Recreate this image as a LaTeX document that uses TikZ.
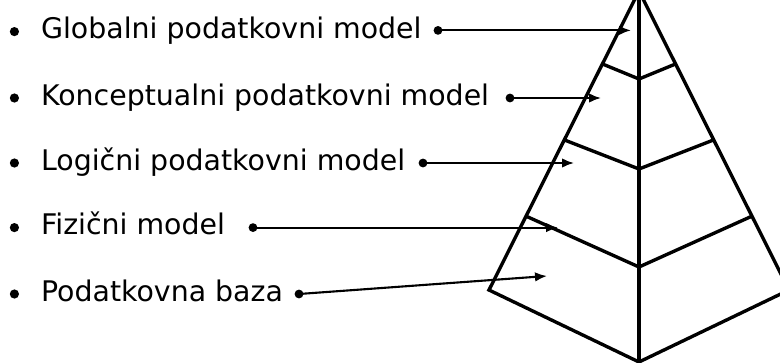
\documentclass[tikz,border=0pt]{standalone}
\usepackage{fontspec}
\setmainfont{DejaVu Sans}
\usepackage{tikz}
\usetikzlibrary{arrows.meta, calc}

\tikzset{
  level/.style={font=\fontsize{20.2}{24}\selectfont, inner sep=0pt, text height=15.35pt, text depth=4.85pt, anchor=west},
  bullet/.style={circle, fill, inner sep=0pt, minimum size=0.23cm},
  pin/.style={circle, fill, inner sep=0pt, minimum size=0.22cm},
  pointer/.style={line width=1.5pt, -{Latex[length=0.3cm,width=0.24cm]}},
  pyr/.style={line width=2.4pt, line join=miter}
}

\begin{document}
\begin{tikzpicture}
\useasboundingbox (0,0) rectangle (19.5,9.05);

% Pyramid outline
\coordinate (apex) at (15.975,9.275);
\coordinate (left) at (12.225,1.8);
\coordinate (right) at (19.725,1.8);
\coordinate (bottom) at (15.975,0);
\draw[pyr] (apex) -- (left) -- (bottom) -- (right) -- cycle;
\draw[pyr] (apex) -- (bottom);

% Layer boundaries
\draw[pyr] ($(apex)!0.244!(left)$) -- (15.975,7.075) -- ($(apex)!0.244!(right)$);
\draw[pyr] ($(apex)!0.498!(left)$) -- (15.975,4.825) -- ($(apex)!0.498!(right)$);
\draw[pyr] ($(apex)!0.753!(left)$) -- (15.975,2.375) -- ($(apex)!0.753!(right)$);

% Bullet list
\node[bullet] (b1) at (0.36,8.26) {};
\node[level] (t1) at (1.02,8.26) {Globalni podatkovni model};
\node[bullet] (b2) at (0.36,6.6) {};
\node[level] (t2) at (1.02,6.6) {Konceptualni podatkovni model};
\node[bullet] (b3) at (0.36,4.975) {};
\node[level] (t3) at (1.02,4.975) {Logični podatkovni model};
\node[bullet] (b4) at (0.36,3.36) {};
\node[level] (t4) at (1.02,3.36) {Fizični model};
\node[bullet] (b5) at (0.36,1.7) {};
\node[level] (t5) at (1.02,1.7) {Podatkovna baza};

% Pointers into the layers
\node[pin] (d1) at (10.95,8.29) {};
\node[pin] (d2) at (12.75,6.6) {};
\node[pin] (d3) at (10.575,4.975) {};
\node[pin] (d4) at (6.325,3.36) {};
\node[pin] (d5) at (7.475,1.7) {};
\coordinate (a1) at (15.775,8.29);
\coordinate (a2) at (15.025,6.6);
\coordinate (a3) at (14.35,4.975);
\coordinate (a4) at (13.95,3.36);
\coordinate (a5) at (13.675,2.15);
\draw[pointer] (d1.center) -- (a1);
\draw[pointer] (d2.center) -- (a2);
\draw[pointer] (d3.center) -- (a3);
\draw[pointer] (d4.center) -- (a4);
\draw[pointer] (d5.center) -- (a5);
\end{tikzpicture}
\end{document}
